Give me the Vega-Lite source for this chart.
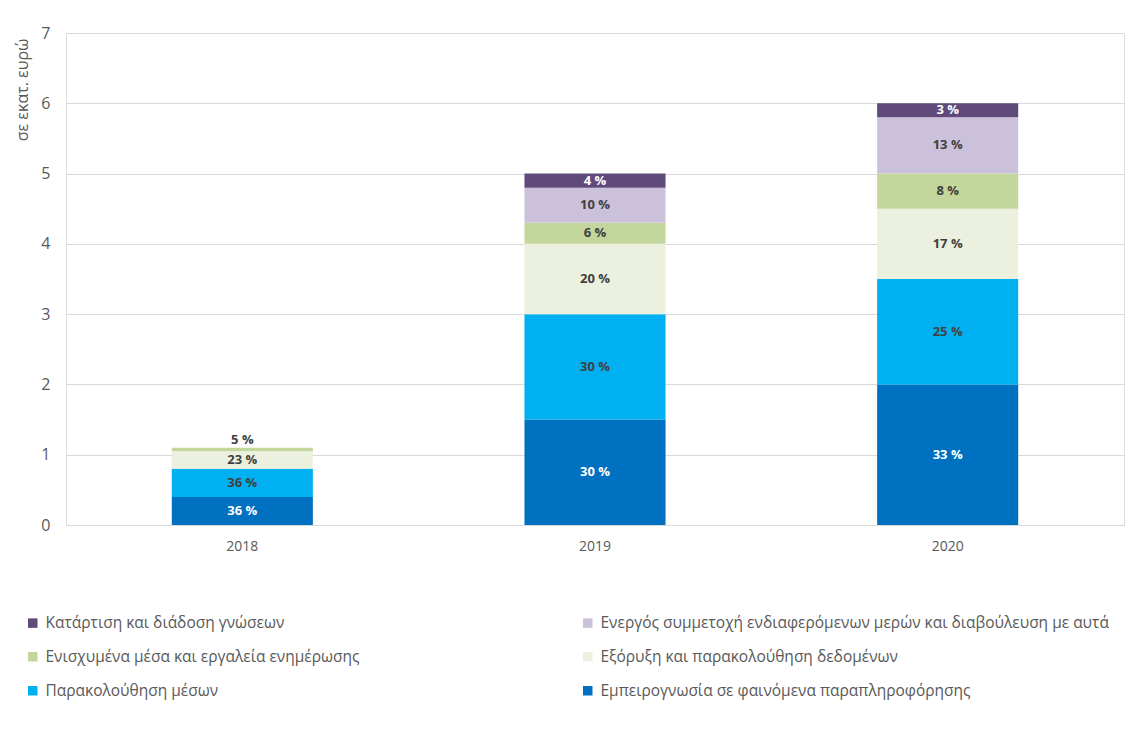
{
  "$schema": "https://vega.github.io/schema/vega-lite/v6.json",
  "autosize": "none",
  "width": 1058,
  "height": 492,
  "padding": {"left": 66, "top": 33, "right": 7, "bottom": 220},
  "background": "white",
  "data": {"values": [
    {"year": "2018", "series": "Εμπειρογνωσία σε φαινόμενα παραπληροφόρησης", "value": 0.4, "label": "36 %"},
    {"year": "2018", "series": "Παρακολούθηση μέσων", "value": 0.4, "label": "36 %"},
    {"year": "2018", "series": "Εξόρυξη και παρακολούθηση δεδομένων", "value": 0.25, "label": "23 %"},
    {"year": "2018", "series": "Ενισχυμένα μέσα και εργαλεία ενημέρωσης", "value": 0.05, "label": "5 %"},
    {"year": "2019", "series": "Εμπειρογνωσία σε φαινόμενα παραπληροφόρησης", "value": 1.5, "label": "30 %"},
    {"year": "2019", "series": "Παρακολούθηση μέσων", "value": 1.5, "label": "30 %"},
    {"year": "2019", "series": "Εξόρυξη και παρακολούθηση δεδομένων", "value": 1.0, "label": "20 %"},
    {"year": "2019", "series": "Ενισχυμένα μέσα και εργαλεία ενημέρωσης", "value": 0.3, "label": "6 %"},
    {"year": "2019", "series": "Ενεργός συμμετοχή ενδιαφερόμενων μερών και διαβούλευση με αυτά", "value": 0.5, "label": "10 %"},
    {"year": "2019", "series": "Κατάρτιση και διάδοση γνώσεων", "value": 0.2, "label": "4 %"},
    {"year": "2020", "series": "Εμπειρογνωσία σε φαινόμενα παραπληροφόρησης", "value": 2.0, "label": "33 %"},
    {"year": "2020", "series": "Παρακολούθηση μέσων", "value": 1.5, "label": "25 %"},
    {"year": "2020", "series": "Εξόρυξη και παρακολούθηση δεδομένων", "value": 1.0, "label": "17 %"},
    {"year": "2020", "series": "Ενισχυμένα μέσα και εργαλεία ενημέρωσης", "value": 0.5, "label": "8 %"},
    {"year": "2020", "series": "Ενεργός συμμετοχή ενδιαφερόμενων μερών και διαβούλευση με αυτά", "value": 0.8, "label": "13 %"},
    {"year": "2020", "series": "Κατάρτιση και διάδοση γνώσεων", "value": 0.2, "label": "3 %"}
  ]},
  "transform": [
    {"calculate": "indexof(['Εμπειρογνωσία σε φαινόμενα παραπληροφόρησης','Παρακολούθηση μέσων','Εξόρυξη και παρακολούθηση δεδομένων','Ενισχυμένα μέσα και εργαλεία ενημέρωσης','Ενεργός συμμετοχή ενδιαφερόμενων μερών και διαβούλευση με αυτά','Κατάρτιση και διάδοση γνώσεων'], datum.series)", "as": "rank"},
    {"stack": "value", "groupby": ["year"], "sort": [{"field": "rank", "order": "ascending"}], "as": ["y0", "y1"]},
    {"calculate": "(datum.y0 + datum.y1) / 2", "as": "ymid"}
  ],
  "encoding": {
    "x": {
      "field": "year", "type": "nominal",
      "scale": {"paddingInner": 0.6, "paddingOuter": 0.3},
      "axis": {
        "title": null, "labelAngle": 0, "labelFont": "Open Sans", "labelFontSize": 14,
        "labelColor": "#595959", "labelPadding": 14, "ticks": false,
        "domainColor": "#d9d9d9", "domainWidth": 1
      }
    }
  },
  "layer": [
    {
      "mark": {"type": "bar"},
      "encoding": {
        "y": {
          "field": "y0", "type": "quantitative",
          "scale": {"domain": [0, 7], "nice": false},
          "axis": {
            "values": [0, 1, 2, 3, 4, 5, 6, 7], "format": "d", "title": "σε εκατ. ευρώ",
            "titleFont": "Open Sans", "titleFontSize": 16, "titleFontWeight": "normal",
            "titleColor": "#595959", "titleAnchor": "end", "titleX": -36, "titleY": 5,
            "labelFont": "Open Sans", "labelFontSize": 16, "labelColor": "#595959",
            "labelPadding": 16, "ticks": false, "domain": false,
            "gridColor": "#d9d9d9", "gridWidth": 1
          }
        },
        "y2": {"field": "y1"},
        "color": {
          "field": "series", "type": "nominal",
          "scale": {
            "domain": ["Κατάρτιση και διάδοση γνώσεων", "Ενεργός συμμετοχή ενδιαφερόμενων μερών και διαβούλευση με αυτά", "Ενισχυμένα μέσα και εργαλεία ενημέρωσης", "Εξόρυξη και παρακολούθηση δεδομένων", "Παρακολούθηση μέσων", "Εμπειρογνωσία σε φαινόμενα παραπληροφόρησης"],
            "range": ["#604A7B", "#CCC1DA", "#C3D69B", "#EBF1DE", "#00B0F0", "#0070C0"]
          },
          "legend": {
            "title": null, "orient": "none", "legendX": -41, "legendY": 582,
            "direction": "horizontal", "columns": 2, "gridAlign": "each",
            "columnPadding": 220, "rowPadding": 17,
            "symbolType": "square", "symbolSize": 90, "symbolStrokeWidth": 0,
            "labelFont": "Open Sans", "labelFontSize": 15.5, "labelColor": "#595959",
            "labelLimit": 900, "labelOffset": 5
          }
        }
      }
    },
    {
      "transform": [{"filter": "datum.value >= 0.1"}],
      "mark": {"type": "text", "font": "Open Sans", "fontSize": 13, "fontWeight": "bold", "baseline": "middle"},
      "encoding": {
        "y": {"field": "ymid", "type": "quantitative"},
        "text": {"field": "label"},
        "color": {
          "condition": {"test": "datum.rank == 0 || datum.rank == 5", "value": "white"},
          "value": "#404040"
        }
      }
    },
    {
      "transform": [{"filter": "datum.value < 0.1"}],
      "mark": {"type": "text", "font": "Open Sans", "fontSize": 13, "fontWeight": "bold", "baseline": "middle", "dy": -9},
      "encoding": {
        "y": {"field": "ymid", "type": "quantitative"},
        "text": {"field": "label"},
        "color": {"value": "#404040"}
      }
    }
  ]
}
